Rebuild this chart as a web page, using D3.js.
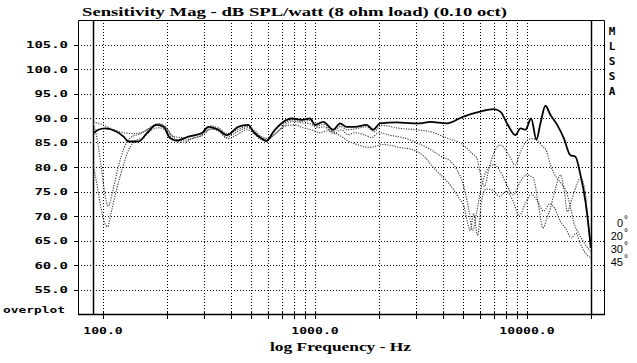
<!DOCTYPE html>
<html>
<head>
<meta charset="utf-8">
<script src="https://cdn.jsdelivr.net/npm/d3@7"></script>
<style>
body{margin:0;background:#fff}
svg{display:block}
</style>
</head>
<body>
<svg id="chart" width="637" height="363"></svg>
<script>
// [freq Hz, dB SPL]
var curve0 = [[90,86.9],[95,87.6],[102,87.9],[116,87.2],[125,86.2],[132,85.2],[147,85.2],[161,86.9],[179,88.6],[193,88.2],[207,85.9],[222,85.4],[253,86.2],[292,86.9],[314,88.2],[350,87.6],[384,86.5],[434,88.2],[484,88.6],[512,87.2],[560,85.8],[591,85.3],[636,87.2],[708,89.2],[776,89.9],[866,89.6],[948,89.9],[1000,88.6],[1093,89.2],[1221,87.6],[1312,88.9],[1410,88.2],[1544,88.2],[1752,88.6],[1883,87.6],[2024,88.9],[2425,89.1],[2908,88.9],[3125,88.9],[3488,89.2],[4184,88.9],[5014,90.3],[6008,91.3],[6946,91.8],[7488,91.3],[8050,88.9],[8818,86.5],[9312,87.9],[9837,87.6],[10460,89.9],[11080,85.6],[11570,88.9],[12220,92.5],[12910,90.6],[13880,88.6],[14910,85.9],[16020,82.4],[16920,82.1],[17870,78.4],[18880,72.9],[19570,67.5],[19990,63.5]];

var curve20 = [[90,89.2],[100,88.6],[112,87.6],[125,87.0],[140,86.8],[155,87.2],[170,88.3],[185,88.8],[200,87.8],[215,86.2],[240,86.0],[270,86.6],[300,87.2],[320,88.4],[350,88.0],[385,86.8],[430,87.6],[480,88.3],[520,87.0],[570,85.8],[600,85.6],[650,87.6],[720,89.0],[780,89.6],[860,89.3],[950,89.5],[1010,88.3],[1100,88.7],[1220,87.2],[1320,88.3],[1420,87.6],[1550,87.8],[1750,88.2],[1900,87.2],[2050,88.5],[2500,87.9],[3000,87.6],[3500,87.2],[4200,85.9],[5000,84.5],[5500,82.8],[5800,81.8],[6000,79.0],[6300,76.0],[6600,79.5],[7000,83.0],[7500,84.5],[8200,82.5],[8800,80.4],[9300,83.0],[9900,85.2],[10500,85.8],[11100,85.5],[11800,84.3],[12400,83.1],[12900,80.4],[13800,77.8],[14600,76.5],[15300,75.0],[16000,72.0],[16600,68.8],[17500,66.5],[18500,64.7],[19990,62.7]];

var curve30 = [[90,88.8],[94,85.5],[98,80.0],[102,74.5],[106,72.0],[111,75.0],[118,80.0],[126,84.0],[135,86.0],[150,86.8],[165,87.8],[180,88.8],[195,88.4],[210,86.5],[230,85.3],[260,85.8],[290,86.4],[315,87.6],[345,87.8],[380,86.0],[430,87.2],[480,88.0],[520,87.4],[560,86.2],[600,85.8],[650,86.8],[720,88.6],[790,89.3],[870,89.0],[950,88.8],[1020,88.0],[1100,88.2],[1230,86.8],[1330,87.6],[1430,86.6],[1550,87.0],[1700,86.6],[1850,86.0],[2000,87.0],[2300,86.4],[2600,86.0],[3000,85.0],[3500,83.6],[4000,82.0],[4300,81.4],[4700,79.2],[5000,76.5],[5300,71.5],[5550,67.0],[5800,71.0],[6100,76.0],[6500,79.5],[7000,80.5],[7500,79.0],[8100,76.0],[8600,74.3],[9300,77.0],[9900,78.4],[10700,77.8],[11300,72.5],[11900,67.5],[12400,69.5],[12900,71.6],[13600,75.5],[14400,78.4],[15000,75.0],[15500,70.9],[16300,73.5],[17200,76.5],[17900,77.8],[18900,74.3],[19500,67.5],[19990,64.0]];

var curve45 = [[90,80.5],[94,76.0],[98,71.5],[102,68.5],[105,67.8],[109,70.5],[116,75.5],[124,80.0],[132,83.5],[142,85.3],[155,86.0],[170,87.6],[185,88.0],[200,87.2],[215,85.6],[240,85.0],[270,86.0],[300,86.6],[320,87.8],[355,87.2],[390,85.8],[430,86.6],[480,87.6],[520,86.6],[570,85.4],[610,85.8],[660,87.0],[720,88.3],[800,88.6],[880,88.0],[960,87.6],[1050,87.0],[1150,87.4],[1300,86.5],[1450,85.2],[1600,84.5],[1800,84.0],[2100,84.6],[2500,84.0],[2900,83.5],[3300,82.0],[3600,80.0],[4000,78.0],[4400,76.0],[4800,73.5],[5050,71.9],[5250,68.5],[5400,67.0],[5600,70.5],[5850,66.0],[6100,73.0],[6400,75.5],[6900,75.3],[7400,74.0],[8000,75.0],[8600,73.0],[9200,70.0],[9800,72.5],[10500,74.5],[11200,73.0],[12000,71.0],[12800,72.5],[13500,71.6],[14300,69.0],[15200,67.5],[16200,65.5],[17000,66.5],[17800,64.5],[18800,62.5],[19990,61.5]];

var gridFreqs = [100,200,300,400,500,600,700,800,900,1000,2000,3000,4000,5000,6000,7000,8000,9000,10000,20000];
var labelFreqs = [100,1000,10000];
var dbTicks = [55,60,65,70,75,80,85,90,95,100,105];
var rangeFreqs = [90,20000];
var legendLabels = ["0","20","30","45"];
var sideLetters = ["M","L","S","S","A"];
var titleText = "Sensitivity Mag - dB SPL/watt (8 ohm load) (0.10 oct)";

(function(){
  var svg = d3.select("#chart");
  var plotL = 78, plotR = 604, plotT = 20, plotB = 314;

  var x = d3.scaleLog().domain([76.2, 23080]).range([plotL, plotR]);
  var y = d3.scaleLinear().domain([50, 110]).range([plotB, plotT]);
  var fmt = d3.format(".1f");
  var mono = "'DejaVu Sans Mono', monospace";

  // grid
  svg.append("g").selectAll("line")
    .data(dbTicks).enter().append("line")
    .attr("x1", plotL).attr("x2", plotR)
    .attr("y1", function(d){ return Math.round(y(d)) + 0.5; })
    .attr("y2", function(d){ return Math.round(y(d)) + 0.5; })
    .style("stroke", "#000").style("stroke-dasharray", "1,2");

  svg.append("g").selectAll("line")
    .data(gridFreqs).enter().append("line")
    .attr("x1", function(d){ return Math.round(x(d)) + 0.5; })
    .attr("x2", function(d){ return Math.round(x(d)) + 0.5; })
    .attr("y1", plotT).attr("y2", plotB)
    .style("stroke", "#000").style("stroke-dasharray", "1,2");

  // measurement range lines
  svg.append("g").selectAll("line")
    .data(rangeFreqs).enter().append("line")
    .attr("x1", function(d){ return Math.round(x(d)) + 0.5; })
    .attr("x2", function(d){ return Math.round(x(d)) + 0.5; })
    .attr("y1", plotT).attr("y2", plotB)
    .style("stroke", "#000").style("stroke-width", 1.5);

  // frame
  svg.append("path")
    .attr("d", "M" + (plotL + 0.5) + "," + plotB + "V" + (plotT + 0.5) + "H" + (plotR + 0.5) + "V" + plotB)
    .style("fill", "none").style("stroke", "#000");
  svg.append("line")
    .attr("x1", plotL).attr("x2", plotR + 1).attr("y1", plotB + 0.5).attr("y2", plotB + 0.5)
    .style("stroke", "#000").style("stroke-width", 1.6);

  // ticks
  svg.append("g").selectAll("line")
    .data(dbTicks).enter().append("line")
    .attr("x1", plotL - 4).attr("x2", plotL)
    .attr("y1", function(d){ return Math.round(y(d)) + 0.5; })
    .attr("y2", function(d){ return Math.round(y(d)) + 0.5; })
    .style("stroke", "#000");
  svg.append("g").selectAll("line")
    .data(gridFreqs).enter().append("line")
    .attr("x1", function(d){ return Math.round(x(d)) + 0.5; })
    .attr("x2", function(d){ return Math.round(x(d)) + 0.5; })
    .attr("y1", plotB - 3).attr("y2", plotB + 5)
    .style("stroke", "#000");

  // curves
  var line = d3.line()
    .x(function(d){ return x(d[0]); })
    .y(function(d){ return y(d[1]); })
    .curve(d3.curveMonotoneX);

  [curve20, curve30, curve45].forEach(function(c){
    svg.append("path").datum(c)
      .attr("d", line)
      .style("fill", "none").style("stroke", "#3a3a3a")
      .style("stroke-width", 1.1).style("stroke-dasharray", "1.2,1.3");
  });
  svg.append("path").datum(curve0)
    .attr("d", line)
    .style("fill", "none").style("stroke", "#000").style("stroke-width", 1.8);

  // labels
  svg.append("text")
    .attr("x", 82).attr("y", 16)
    .attr("textLength", 425).attr("lengthAdjust", "spacingAndGlyphs")
    .style("font-family", "'Liberation Serif', serif").style("font-weight", "bold")
    .style("font-size", "13px")
    .text(titleText);

  svg.append("g").selectAll("text")
    .data(dbTicks).enter().append("text")
    .attr("x", 68).attr("y", function(d){ return y(d) + 3.5; })
    .attr("text-anchor", "end")
    .attr("textLength", function(d){ return fmt(d).length * 8.4; })
    .attr("lengthAdjust", "spacingAndGlyphs")
    .style("font-family", mono).style("font-weight", "bold").style("font-size", "9.5px")
    .text(function(d){ return fmt(d); });

  svg.append("g").selectAll("text")
    .data(labelFreqs).enter().append("text")
    .attr("x", function(d){ return x(d) - fmt(d).length * 7.9 / 2; })
    .attr("y", 333.5)
    .attr("textLength", function(d){ return fmt(d).length * 7.9; })
    .attr("lengthAdjust", "spacingAndGlyphs")
    .style("font-family", mono).style("font-weight", "bold").style("font-size", "9.5px")
    .text(function(d){ return fmt(d); });

  svg.append("text")
    .attr("x", 3).attr("y", 313)
    .attr("textLength", 62).attr("lengthAdjust", "spacingAndGlyphs")
    .style("font-family", mono).style("font-weight", "bold").style("font-size", "9px")
    .text("overplot");

  svg.append("text")
    .attr("x", 270).attr("y", 351)
    .attr("textLength", 141).attr("lengthAdjust", "spacingAndGlyphs")
    .style("font-family", "'Liberation Serif', serif").style("font-weight", "bold")
    .style("font-size", "13px")
    .text("log Frequency - Hz");

  svg.append("g").selectAll("text")
    .data(sideLetters).enter().append("text")
    .attr("x", 612).attr("y", function(d, i){ return 35 + i * 15; })
    .attr("text-anchor", "middle")
    .style("font-family", mono).style("font-weight", "bold").style("font-size", "11px")
    .text(function(d){ return d; });

  svg.append("g").selectAll("text")
    .data(legendLabels).enter().append("text")
    .attr("x", 623).attr("y", function(d, i){ return 227 + i * 13; })
    .attr("text-anchor", "end")
    .style("font-family", "'Liberation Sans', sans-serif").style("font-size", "11px")
    .text(function(d){ return d; });
  svg.append("g").selectAll("text")
    .data(legendLabels).enter().append("text")
    .attr("x", 624).attr("y", function(d, i){ return 223 + i * 13; })
    .style("font-family", "'Liberation Sans', sans-serif").style("font-size", "10px")
    .text("\u00b0");
})();
</script>
</body>
</html>
